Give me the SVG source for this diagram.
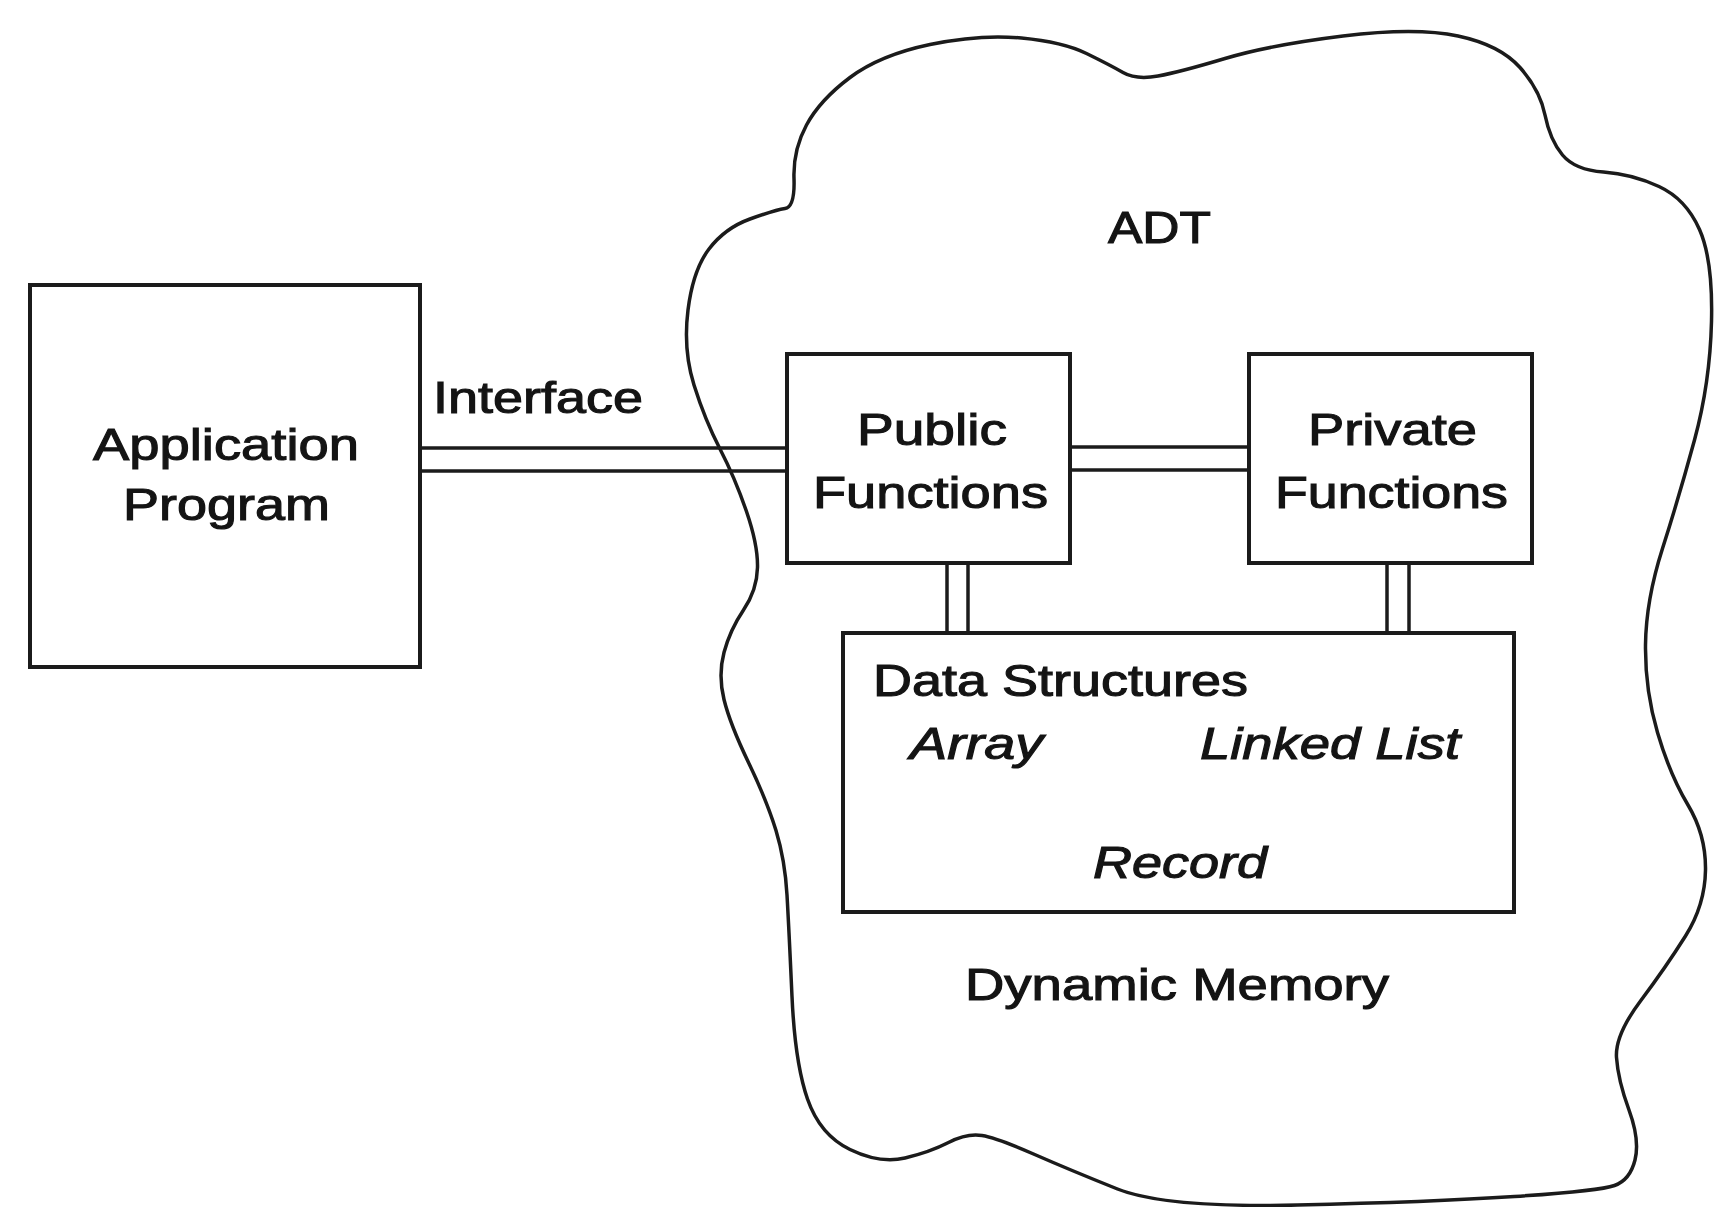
<svg xmlns="http://www.w3.org/2000/svg" width="1719" height="1207" viewBox="0 0 1719 1207">
<style>
.box{fill:#ffffff;stroke:#1b1b1b;stroke-width:4}
.cloud{fill:#ffffff;stroke:#1b1b1b;stroke-width:3.5;stroke-linejoin:round}
.wire{stroke:#1b1b1b;stroke-width:3.5;fill:none}
.t{font-family:"Liberation Sans",Arial,sans-serif;font-size:45px;fill:#141414;stroke:#141414;stroke-width:1.1}
.i{font-style:italic}
</style>
<rect x="0" y="0" width="1719" height="1207" fill="#ffffff"/>
<g id="adt">
<path class="cloud" d="M785,208.5 Q795,207 794,178.5 Q793,150 806.5,125 Q820,100 850,77.5 Q880,55 930,44.5 Q980,34 1021.5,38 Q1063,42 1086.5,53.5 Q1110,65 1123,72.5 Q1136,80 1158,76 Q1180,72 1225,58.5 Q1270,45 1343,36 Q1416,27 1458,36 Q1500,45 1520,67.5 Q1540,90 1545,115 Q1550,140 1562.5,155 Q1575,170 1603.5,172 Q1632,174 1659,186.5 Q1686,199 1699.5,229.5 Q1713,260 1711.5,321.5 Q1710,383 1694.5,440 Q1679,497 1662.5,548.5 Q1646,600 1645.5,645 Q1645,690 1657.5,732.5 Q1670,775 1688,805 Q1706,835 1705.5,870 Q1705,905 1685.5,936 Q1666,967 1640.5,1001 Q1615,1035 1616.5,1057.5 Q1618,1080 1629,1110 Q1640,1140 1635,1160 Q1630,1180 1614.5,1185.5 Q1599,1191 1514.5,1196.5 Q1430,1202 1297.5,1205 Q1165,1208 1117.5,1189 Q1070,1170 1033.5,1154 Q997,1138 982,1135.5 Q967,1133 948.5,1142.5 Q930,1152 905,1158 Q880,1164 850,1149.5 Q820,1135 807.5,1099 Q795,1063 792,996.5 Q789,930 787,895 Q785,860 776,830.5 Q767,801 748.5,762.5 Q730,724 724,699.5 Q718,675 724,652.5 Q730,630 743.5,610 Q757,590 757.5,567.5 Q758,545 746.5,511.5 Q735,478 720,449 Q705,420 694,385 Q683,350 688,310 Q693,270 709,249 Q725,228 750,219 Q775,210 785,208.5 Z"/>
<text class="t" x="1108" y="243" font-size="52" textLength="103" lengthAdjust="spacingAndGlyphs">ADT</text>
<text class="t" x="965" y="1000" font-size="46" textLength="424" lengthAdjust="spacingAndGlyphs">Dynamic Memory</text>
</g>
<g id="connectors">
<line class="wire" x1="420" y1="448" x2="787" y2="448"/>
<line class="wire" x1="420" y1="471" x2="787" y2="471"/>
<line class="wire" x1="1070" y1="447" x2="1249" y2="447"/>
<line class="wire" x1="1070" y1="470" x2="1249" y2="470"/>
<line class="wire" x1="947" y1="563" x2="947" y2="633"/>
<line class="wire" x1="968" y1="563" x2="968" y2="633"/>
<line class="wire" x1="1387" y1="563" x2="1387" y2="633"/>
<line class="wire" x1="1409" y1="563" x2="1409" y2="633"/>
<text class="t" x="433" y="413" textLength="210" lengthAdjust="spacingAndGlyphs">Interface</text>
</g>
<g id="application-program">
<rect class="box" x="30" y="285" width="390" height="382"/>
<text class="t" x="93" y="460" font-size="46" textLength="266" lengthAdjust="spacingAndGlyphs">Application</text>
<text class="t" x="123" y="520" font-size="46" textLength="207" lengthAdjust="spacingAndGlyphs">Program</text>
</g>
<g id="public-functions">
<rect class="box" x="787" y="354" width="283" height="209"/>
<text class="t" x="857" y="445" textLength="150" lengthAdjust="spacingAndGlyphs">Public</text>
<text class="t" x="813" y="508" textLength="235" lengthAdjust="spacingAndGlyphs">Functions</text>
</g>
<g id="private-functions">
<rect class="box" x="1249" y="354" width="283" height="209"/>
<text class="t" x="1308" y="445" textLength="169" lengthAdjust="spacingAndGlyphs">Private</text>
<text class="t" x="1275" y="508" textLength="233" lengthAdjust="spacingAndGlyphs">Functions</text>
</g>
<g id="data-structures">
<rect class="box" x="843" y="633" width="671" height="279"/>
<text class="t" x="873" y="696" textLength="375" lengthAdjust="spacingAndGlyphs">Data Structures</text>
<text class="t i" x="910" y="759" textLength="133" lengthAdjust="spacingAndGlyphs">Array</text>
<text class="t i" x="1200" y="759" textLength="260" lengthAdjust="spacingAndGlyphs">Linked List</text>
<text class="t i" x="1093" y="878" textLength="174" lengthAdjust="spacingAndGlyphs">Record</text>
</g>
</svg>
